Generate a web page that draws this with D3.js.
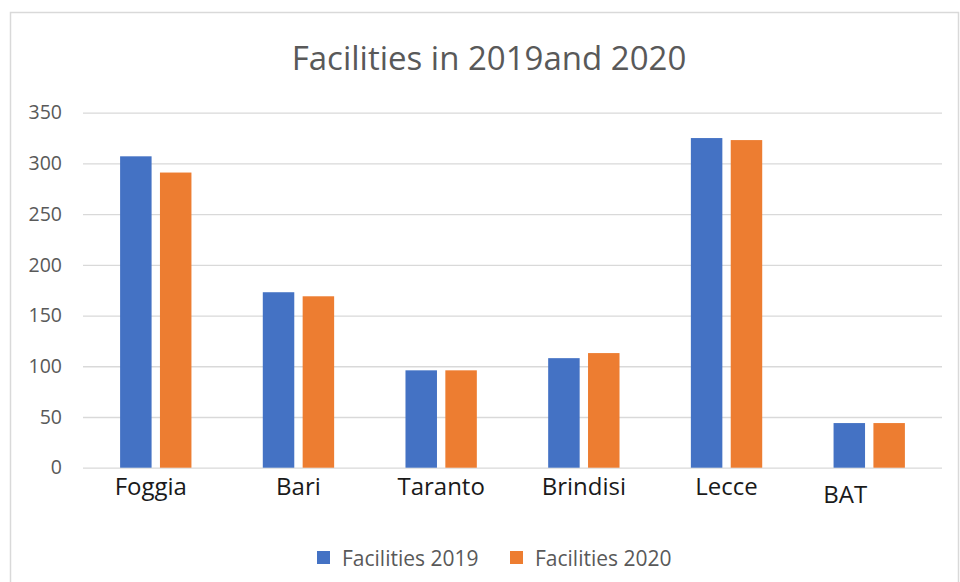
<!DOCTYPE html>
<html>
<head>
<meta charset="utf-8">
<script src="https://cdn.jsdelivr.net/npm/d3@7"></script>
<style>
  html, body { margin: 0; padding: 0; background: #fff; }
  svg { display: block; }
</style>
</head>
<body>
<svg id="chart" width="960" height="582"></svg>
<script>
// Number of facilities per province
const provinces = ["Foggia", "Bari", "Taranto", "Brindisi", "Lecce", "BAT"];
const seriesNames = ["Facilities 2019", "Facilities 2020"];
const facilities2019 = [307, 173, 96, 108, 325, 44];
const facilities2020 = [291, 169, 96, 113, 323, 44];
const yTicks = [0, 50, 100, 150, 200, 250, 300, 350];
const seriesColors = ["#4472C4", "#ED7D31"];

const rows = provinces.map((p, i) => ({
  province: p,
  values: [facilities2019[i], facilities2020[i]]
}));

const svg = d3.select("#chart");
const plot = { left: 83, right: 942, top: 112.7, bottom: 467.7 };

// chart frame
svg.append("rect")
  .attr("x", 10.5).attr("y", 12.5)
  .attr("width", 948).attr("height", 600)
  .attr("fill", "#fff")
  .attr("stroke", "#d9d9d9").attr("stroke-width", 1.5);

const x0 = d3.scaleBand()
  .domain(provinces)
  .range([plot.left, plot.right])
  .paddingInner(0.5)
  .paddingOuter(0.26);

const x1 = d3.scaleBand()
  .domain(seriesNames)
  .range([0, x0.bandwidth()])
  .paddingInner(0.21);

const y = d3.scaleLinear()
  .domain([0, 350])
  .range([plot.bottom, plot.top]);

// gridlines + value axis labels
const yAxis = d3.axisLeft(y)
  .tickValues(yTicks)
  .tickSize(-(plot.right - plot.left))
  .tickPadding(21)
  .tickFormat(d3.format("d"));

const gy = svg.append("g")
  .attr("transform", `translate(${plot.left},0)`)
  .call(yAxis);
gy.select(".domain").remove();
gy.selectAll(".tick line")
  .attr("stroke", "#d9d9d9")
  .attr("stroke-width", 1.3);
gy.selectAll(".tick text")
  .attr("fill", "#595959")
  .style("font-family", "'Open Sans', sans-serif")
  .style("font-size", "19.5px");

// bars
const groups = svg.append("g")
  .selectAll("g")
  .data(rows)
  .join("g")
  .attr("transform", d => `translate(${x0(d.province)},0)`);

groups.selectAll("rect")
  .data(d => d.values.map((v, i) => ({ key: seriesNames[i], value: v, i })))
  .join("rect")
  .attr("x", d => x1(d.key))
  .attr("y", d => y(d.value))
  .attr("width", x1.bandwidth())
  .attr("height", d => y(0) - y(d.value))
  .attr("fill", d => seriesColors[d.i]);

// category labels (the BAT label sits a little lower and to the left)
const labelNudge = { Foggia: { dx: -5, dy: 0 }, BAT: { dx: -24, dy: 8 } };
const xAxis = d3.axisBottom(x0).tickSize(0).tickPadding(0);
const gx = svg.append("g")
  .attr("transform", `translate(0,${plot.bottom})`)
  .call(xAxis);
gx.select(".domain").remove();
gx.selectAll(".tick text")
  .attr("fill", "#1a1a1a")
  .attr("dy", null)
  .attr("y", 27)
  .attr("dx", d => (labelNudge[d] ? labelNudge[d].dx : 0))
  .attr("transform", d => labelNudge[d] ? `translate(0,${labelNudge[d].dy})` : null)
  .style("font-family", "'Open Sans', sans-serif")
  .style("font-size", "24px");

// title
svg.append("text")
  .attr("x", 489)
  .attr("y", 70)
  .attr("text-anchor", "middle")
  .attr("fill", "#595959")
  .style("font-family", "'Open Sans', sans-serif")
  .style("font-size", "33px")
  .text("Facilities in 2019and 2020");

// legend
const legendItems = [
  { name: seriesNames[0], color: seriesColors[0], x: 317 },
  { name: seriesNames[1], color: seriesColors[1], x: 510 }
];
const lg = svg.append("g").selectAll("g")
  .data(legendItems)
  .join("g")
  .attr("transform", d => `translate(${d.x},551)`);
lg.append("rect")
  .attr("width", 13).attr("height", 13)
  .attr("fill", d => d.color);
lg.append("text")
  .attr("x", 25)
  .attr("y", 15)
  .attr("fill", "#595959")
  .style("font-family", "'Open Sans', sans-serif")
  .style("font-size", "21px")
  .text(d => d.name);
</script>
</body>
</html>
